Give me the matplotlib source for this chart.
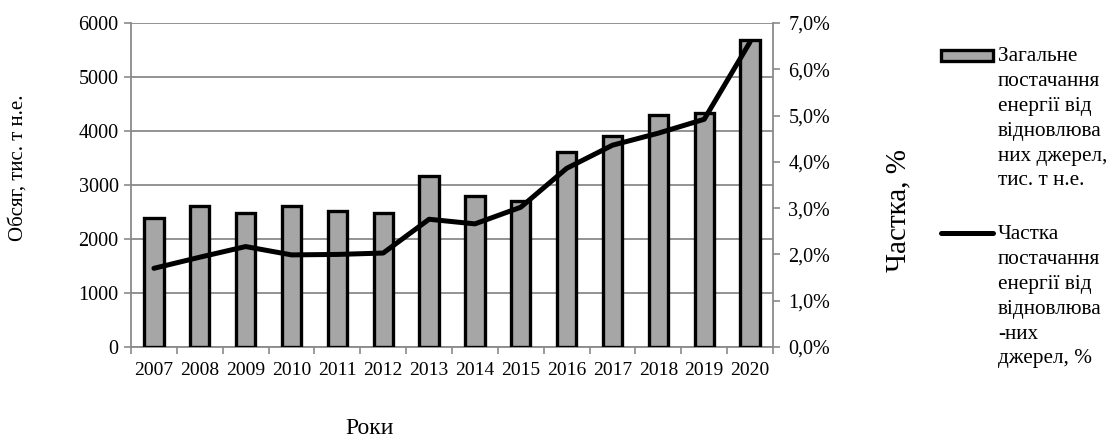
import numpy as np
import matplotlib.pyplot as plt
from matplotlib.lines import Line2D
from matplotlib.patches import Rectangle
from matplotlib.ticker import FuncFormatter

# ---- Data ------------------------------------------------------------------

years = ["2007", "2008", "2009", "2010", "2011", "2012", "2013",
         "2014", "2015", "2016", "2017", "2018", "2019", "2020"]
supply = [2390, 2605, 2480, 2610, 2525, 2490, 3170,
          2800, 2700, 3610, 3905, 4300, 4340, 5685]
share = [1.70, 1.94, 2.17, 1.99, 2.00, 2.03, 2.76,
         2.66, 3.02, 3.86, 4.36, 4.62, 4.92, 6.59]

bar_label = "Загальне\nпостачання\nенергії від\nвідновлюва\nних джерел,\nтис. т н.е."
line_label = "Частка\nпостачання\nенергії від\nвідновлюва\n-них\nджерел, %"

# ---- Style -----------------------------------------------------------------

plt.rcParams.update({
    "font.family": ["Liberation Serif", "DejaVu Serif"],
    "font.size": 14,
})
GRID = "#8a8a8a"
BAR = "#a6a6a6"

W, H = 1109, 445
fig = plt.figure(figsize=(W / 100, H / 100), dpi=100)
ax = fig.add_axes([131 / W, 1 - 347 / H, (773 - 131) / W, (347 - 23) / H])
ax2 = ax.twinx()

x = np.arange(len(years))
ax.bar(x, supply, width=0.42, color=BAR, edgecolor="black", linewidth=2.4,
       zorder=3)
ax2.plot(x, share, color="black", linewidth=3.6, solid_joinstyle="round",
         solid_capstyle="round", zorder=4)
ax2.set_zorder(ax.get_zorder() + 1)
ax2.patch.set_visible(False)

# left axis
ax.set_xlim(-0.5, len(years) - 0.5)
ax.set_ylim(0, 6000)
ax.set_yticks(np.arange(0, 6001, 1000))
ax.yaxis.grid(True, color=GRID, linewidth=1.3, zorder=0)
ax.set_axisbelow(True)
ax.tick_params(axis="y", direction="out", length=5, color=GRID, width=1.2,
               labelsize=14.5, pad=4)
ax.set_xticks(x)
ax.set_xticklabels(years, fontsize=14)
ax.set_xticks(np.arange(-0.5, len(years), 1.0), minor=True)
ax.tick_params(axis="x", which="major", length=0, pad=11)
ax.tick_params(axis="x", which="minor", direction="out", length=5,
               color=GRID, width=1.2)
ax.spines["top"].set_visible(False)
ax2.spines["top"].set_visible(False)
for sp in (ax.spines["left"], ax.spines["bottom"], ax2.spines["right"]):
    sp.set_color(GRID)
    sp.set_linewidth(1.3)
ax2.spines["left"].set_visible(False)
ax2.spines["bottom"].set_visible(False)
ax.spines["right"].set_visible(False)

# right axis
ax2.set_ylim(0, 7.0)
ax2.set_yticks(np.arange(0, 7.01, 1.0))
ax2.yaxis.set_major_formatter(FuncFormatter(lambda v, p: f"{v:.1f}%".replace(".", ",")))
ax2.tick_params(axis="y", direction="out", length=5, color=GRID, width=1.2,
                labelsize=14.5, pad=6)

# axis titles
fig.text(18 / W, 1 - 168 / H, "Обсяг, тис. т н.е.", rotation=90,
         ha="center", va="center", fontsize=15)
fig.text(898 / W, 1 - 210 / H, "Частка, %", rotation=90,
         ha="center", va="center", fontsize=21)
fig.text(370 / W, 1 - 428 / H, "Роки", ha="center", va="center", fontsize=17)

# legend (drawn by hand, Excel style)
fig.add_artist(Rectangle((941 / W, 1 - 61 / H), 52 / W, 11 / H,
                         transform=fig.transFigure, facecolor=BAR,
                         edgecolor="black", linewidth=2.4))
fig.add_artist(Line2D([941 / W, 993 / W], [1 - 233 / H, 1 - 233 / H],
                      transform=fig.transFigure, color="black",
                      linewidth=3.6, solid_capstyle="round"))
fig.text(998 / W, 1 - 47 / H, bar_label, ha="left", va="top",
         fontsize=15.3, linespacing=1.42)
fig.text(998 / W, 1 - 225 / H, line_label, ha="left", va="top",
         fontsize=15.3, linespacing=1.42)

fig.savefig("out.png", dpi=100)
